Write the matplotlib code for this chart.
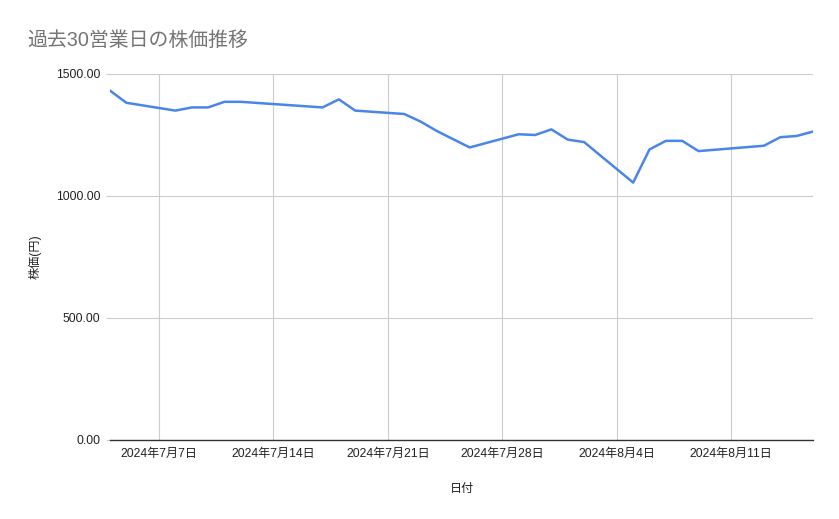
import matplotlib
matplotlib.use('Agg')
import matplotlib.pyplot as plt
import matplotlib.dates as mdates
from matplotlib.ticker import FormatStrFormatter
import pandas as pd

plt.rcParams['font.family'] = ['Liberation Sans', 'Noto Sans CJK JP', 'DejaVu Sans']

# daily closing prices
dates = ['2024-07-04', '2024-07-05', '2024-07-08', '2024-07-09', '2024-07-10',
         '2024-07-11', '2024-07-12', '2024-07-17', '2024-07-18', '2024-07-19',
         '2024-07-22', '2024-07-23', '2024-07-24', '2024-07-26', '2024-07-29',
         '2024-07-30', '2024-07-31', '2024-08-01', '2024-08-02', '2024-08-05',
         '2024-08-06', '2024-08-07', '2024-08-08', '2024-08-09', '2024-08-13',
         '2024-08-14', '2024-08-15', '2024-08-16']
prices = [1432, 1382, 1350, 1363, 1363,
          1386, 1386, 1363, 1396, 1350,
          1336, 1305, 1266, 1199, 1253,
          1250, 1273, 1231, 1221, 1055,
          1191, 1226, 1226, 1184, 1206,
          1241, 1246, 1264]
yticks = [0, 500, 1000, 1500]

dates = pd.to_datetime(dates)

fig = plt.figure(figsize=(8.39, 5.19), dpi=100)
ax = fig.add_axes([110/839, 1-440/519, 703/839, 366/519])

ax.plot(dates, prices, color='#4a86e8', linewidth=1.8)

ax.set_xlim(pd.Timestamp('2024-07-04'), pd.Timestamp('2024-08-16'))
ax.set_ylim(0, 1500)
ax.set_yticks(yticks)
ax.yaxis.set_major_formatter(FormatStrFormatter('%.2f'))

ax.xaxis.set_major_locator(mdates.WeekdayLocator(byweekday=mdates.SU))
ax.xaxis.set_major_formatter(plt.FuncFormatter(
    lambda v, p: '{0.year}年{0.month}月{0.day}日'.format(mdates.num2date(v))))

ax.grid(True, color='#cccccc', linewidth=0.8)
ax.set_axisbelow(True)
for s in ['top', 'right', 'left']:
    ax.spines[s].set_visible(False)
ax.spines['bottom'].set_color('#333333')
ax.spines['bottom'].set_linewidth(1.0)
ax.tick_params(axis='both', labelsize=8.7, colors='#222222')
ax.tick_params(axis='x', length=0, pad=6)
ax.tick_params(axis='y', length=3, width=0.8, color='#cccccc', pad=4)

ax.set_xlabel('日付', fontsize=8.7, color='#222222', labelpad=16)
ax.set_ylabel('株価(円)', fontsize=8.7, color='#222222', labelpad=10)

fig.text(27/839, 1-40/519, '過去30営業日の株価推移', fontsize=14.3, color='#757575',
         va='center', ha='left')

fig.savefig('out.png', dpi=100)
